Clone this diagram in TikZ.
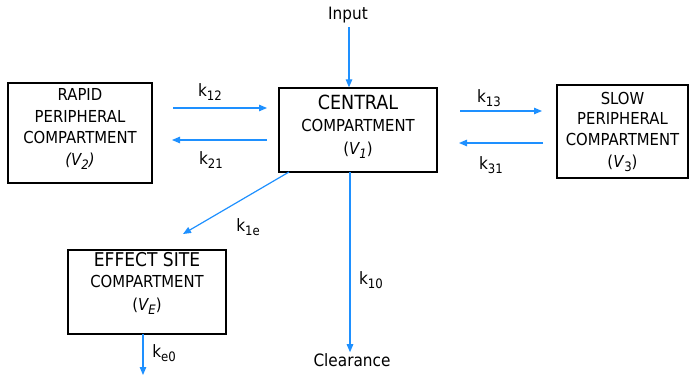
\documentclass[tikz,border=0pt]{standalone}
\usepackage{fontspec}
\setmainfont{DejaVu Sans Condensed}
\usetikzlibrary{arrows.meta}
\definecolor{arrblue}{RGB}{30,144,255}
\newcommand{\mysub}[1]{\raisebox{-0.45ex}{\fontsize{13}{13}\selectfont #1}}
\newcommand{\fs}[1]{\fontsize{#1}{#1}\selectfont}
\tikzset{
  box/.style={draw=black, line width=1.3pt, inner sep=0pt},
  boxtext/.style={align=center, inner sep=0pt, font=\fs{16.5}},
  lbl/.style={inner sep=1pt, font=\fs{17}},
  arr/.style={draw=arrblue, line width=1.2pt, -{Triangle[length=8pt,width=6.5pt]}},
}
\begin{document}
\begin{tikzpicture}[x=1pt,y=-1pt]
\useasboundingbox (0,0) rectangle (690,375);
% boxes
\node[box, minimum width=144pt, minimum height=100pt] (rapid) at (80,133) {};
\node[box, minimum width=158pt, minimum height=84pt] (central) at (358,130) {};
\node[box, minimum width=131pt, minimum height=93pt] (slow) at (622.5,131.5) {};
\node[box, minimum width=158pt, minimum height=84pt] (effect) at (147,292) {};
% box texts
\node[boxtext] (rapidt) at (80,129) {RAPID\\[5pt]PERIPHERAL\\[5pt]COMPARTMENT\\[5pt]\textit{(V\mysub{2})}};
\node[boxtext] (centralt) at (358,127) {{\fs{19.5}CENTRAL}\\[5pt]COMPARTMENT\\[7pt](\textit{V\mysub{1}})};
\node[boxtext] (slowt) at (622.5,132) {SLOW\\[4pt]PERIPHERAL\\[4pt]COMPARTMENT\\[6pt](\textit{V}\mysub{3})};
\node[boxtext] (effectt) at (147,283) {{\fs{19}EFFECT SITE}\\[5pt]COMPARTMENT\\[6pt](\textit{V\mysub{E}})};
% free texts
\node[lbl] (input) at (348,15) {Input};
\node[lbl] (clear) at (352,360) {Clearance};
% coordinates for free-floating arrows
\coordinate (a12s) at (173,108); \coordinate (a12e) at (267,108);
\coordinate (a21s) at (267,140); \coordinate (a21e) at (172,140);
\coordinate (a13s) at (460,111); \coordinate (a13e) at (542,111);
\coordinate (a31s) at (543,143); \coordinate (a31e) at (459,143);
\coordinate (a1es) at (289,172); \coordinate (a1ee) at (183,234);
\coordinate (ke0s) at (143,334); \coordinate (ke0e) at (143,375);
\coordinate (k10s) at (350,172);
% arrows
\draw[arr] (input.south) ++(1,3) coordinate (ins) -- (ins |- central.north);
\draw[arr] (a12s) -- (a12e);
\draw[arr] (a21s) -- (a21e);
\draw[arr] (a13s) -- (a13e);
\draw[arr] (a31s) -- (a31e);
\draw[arr] (a1es) -- (a1ee);
\draw[arr] (k10s) -- (k10s |- clear.north);
\draw[arr] (ke0s) -- (ke0e);
% labels
\node[lbl] (l12) at (210,92) {k\mysub{12}};
\node[lbl] (l21) at (211,160) {k\mysub{21}};
\node[lbl] (l13) at (489,98) {k\mysub{13}};
\node[lbl] (l31) at (491,165) {k\mysub{31}};
\node[lbl] (l1e) at (248,227) {k\mysub{1e}};
\node[lbl] (l10) at (371,280) {k\mysub{10}};
\node[lbl] (le0) at (164,353) {k\mysub{e0}};
\end{tikzpicture}
\end{document}
